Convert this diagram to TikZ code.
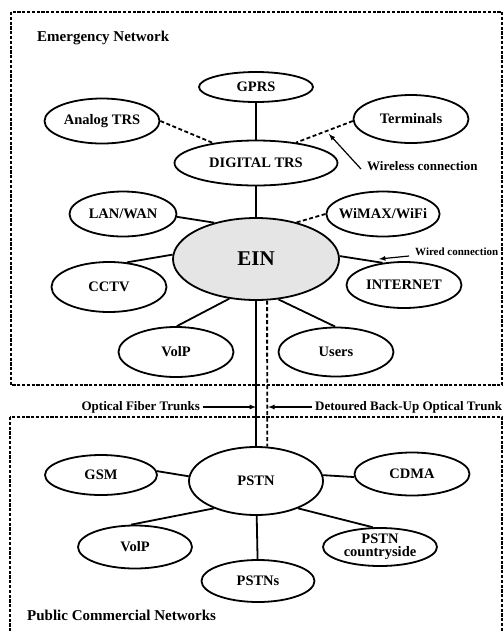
\documentclass[tikz,border=0pt]{standalone}
\usepackage{fontspec}
\setmainfont{Liberation Serif}
\usepackage{tikz}
\usetikzlibrary{arrows,shapes,calc,positioning}

\begin{document}
\begin{tikzpicture}[
	x=1pt, y=-1pt,
	net/.style = {shape=ellipse, draw, line width=1.8pt, inner sep=0pt,
	minimum width=115pt, minimum height=45pt, align=center,
	font=\fontsize{14.5}{13}\selectfont\bfseries},
	link/.style = {line width=1.8pt},
	radio/.style = {line width=1.8pt, dash pattern=on 4pt off 2.5pt},
	zone/.style = {line width=1.5pt, dash pattern=on 3.2pt off 1.6pt},
	title/.style = {anchor=west, inner sep=0pt, font=\fontsize{15}{17}\selectfont\bfseries},
	tag/.style = {inner sep=0pt, font=\fontsize{13}{15}\selectfont\bfseries},
	pointer/.style = {-latex, line width=1.2pt}
]
\useasboundingbox (0,0) rectangle (503,633);

% the two network areas
\draw[zone] (11,12) rectangle (502,385);
\draw[zone] (10,417) rectangle (502,650);
\node[title] (emtitle) at (37,38) {Emergency Network};
\node[title] (pctitle) at (27,615) {Public Commercial Networks};

% emergency network
\node[net, minimum width=114pt, minimum height=30pt] (gprs) at (256,87) {GPRS};
\node[net] (atrs) at (102,121) {Analog TRS};
\node[net, minimum height=48pt] (term) at (411,119) {Terminals};
\node[net, minimum width=163pt] (dtrs) at (256,163) {DIGITAL TRS};
\node[net, minimum width=107pt] (lan) at (123,214) {LAN/WAN};
\node[net, minimum width=113pt, inner xsep=-4pt] (wifi) at (383,214) {WiMAX/WiFi};
\node[net, minimum width=166pt, minimum height=82pt, fill=gray!20,
	font=\fontsize{21}{24}\selectfont\bfseries] (ein) at (256,259) {EIN};
\node[net, minimum height=50pt] (cctv) at (109,287) {CCTV};
\node[net, minimum height=46pt] (inet) at (404,285) {INTERNET};
\node[net, minimum height=50pt] (voip) at (176,352) {VolP};
\node[net, minimum height=49pt] (users) at (336,352) {Users};

% public commercial networks
\node[net, minimum width=134pt, minimum height=68pt] (pstn) at (256,481) {PSTN};
\node[net, minimum width=112pt, minimum height=40pt] (gsm) at (101,475) {GSM};
\node[net, minimum height=43pt] (cdma) at (412,474) {CDMA};
\node[net, minimum width=114pt, minimum height=43pt] (pvoip) at (135,547) {VolP};
\node[net, minimum width=114pt, minimum height=38pt, inner ysep=-3pt] (rural) at (380,547) {PSTN\\countryside};
\node[net, minimum width=113pt, minimum height=42pt] (pstns) at (258,581) {PSTNs};

% connections
\draw[link] (gprs) -- (dtrs);
\draw[radio] (atrs.east) -- (dtrs.155);
\draw[radio] (term.182) -- (dtrs.27);
\draw[link] (dtrs) -- (ein);
\draw[link] (lan.-3) -- (ein.139);
\draw[radio] (wifi.west) -- (ein.42);
\draw[link] (cctv.54) -- (ein.177);
\draw[link] (inet.134) -- (ein.2);
\draw[link] (voip.88) -- (ein.236);
\draw[link] (users.92) -- (ein.-61);
\draw[link] (ein) -- (pstn);
\draw[radio] (ein.-75) -- (pstn.72);
\draw[link] (gsm.4) -- (pstn.176);
\draw[link] (cdma.183) -- (pstn.5);
\draw[link] (pvoip.100) -- (pstn.213);
\draw[link] (rural.110) -- (pstn.-33);
\draw[link] (pstn) -- (pstns);

% labels with pointers
\node[tag, anchor=west] (wless) at (367,166) {Wireless connection};
\coordinate (wlesstip) at (329,134);
\draw[pointer] ([shift={(-6pt,-3pt)}]wless.west) -- (wlesstip);
\node[tag, anchor=west, font=\fontsize{11}{13}\selectfont\bfseries] (wired) at (415,252) {Wired connection};
\coordinate (wiredtip) at (379,259);
\draw[pointer] ([shift={(-6pt,-4pt)}]wired.west) -- (wiredtip);
\node[tag, anchor=east] (fibre) at (200,407) {Optical Fiber Trunks};
\draw[pointer] ([xshift=3pt]fibre.east) -- (fibre.east -| ein.south);
\node[tag, anchor=west] (detour) at (315,407) {Detoured Back-Up Optical Trunk};
\draw[pointer] ([xshift=-3pt]detour.west) -- ([xshift=1pt]detour.west -| ein.-75);
\end{tikzpicture}
\end{document}
